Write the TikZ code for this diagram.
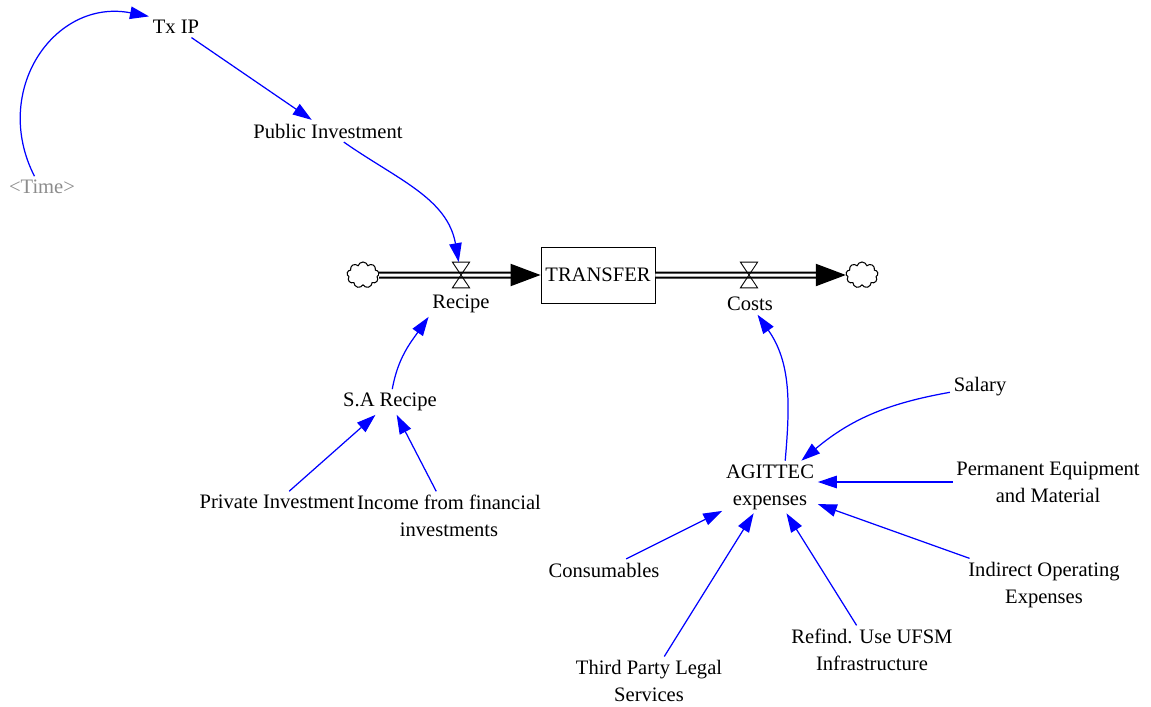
\documentclass[tikz,border=0pt]{standalone}
\usepackage{fontspec}
\setmainfont{Liberation Serif}
\usetikzlibrary{arrows.meta,shapes.symbols}

\begin{document}
\begin{tikzpicture}[x=0.02cm, y=-0.02cm,
	every node/.style={font=\fontsize{11.7}{15.3}\selectfont, align=center, inner sep=2pt},
	link/.style={draw=blue, line width=0.7pt, -{Triangle[length=3.8mm, width=2.5mm]}},
	pipe/.style={draw=black, line width=0.4mm, double=white, double distance=0.6mm, -{Triangle[length=6mm, width=4.4mm]}},
	valve/.style={minimum width=3.3mm, minimum height=5mm, inner sep=0pt},
	cloudy/.style={cloud, cloud puffs=9, draw, line width=0.6pt, minimum width=6.4mm, minimum height=5.2mm, inner sep=0pt},
	stock/.style={draw, line width=0.5pt, minimum width=2.28cm, minimum height=1.12cm, inner sep=0pt}]
		\useasboundingbox (0,0) rectangle (1151,706);

		\node (TX) at (176,27) [] {Tx IP};
		\node (PI) at (328,131) [] {Public Investment};
		\node (TM) at (42,187) [text=black!45] {<Time>};

		\node (CL) at (363,275) [cloudy] {};
		\node (TR) at (598,275) [stock] {TRANSFER};
		\node (CR) at (862,275) [cloudy] {};
		\node (VR) at (461,275) [valve] {};
		\node (VC) at (749,275) [valve] {};
		\node (RL) at (461,304) [] {Recipe};
		\node (CC) at (750,304) [] {Costs};

		\node (SA) at (390,402) [] {S.A Recipe};
		\node (PV) at (277,502) [] {Private Investment};
		\node (IF) at (449,516) [] {Income from financial\\investments};

		\node (AG) at (770,487) [] {AGITTEC\\expenses};
		\node (SL) at (980,387) [] {Salary};
		\node (PE) at (1048,482) [] {Permanent Equipment\\and Material};
		\node (CO) at (604,570) [] {Consumables};
		\node (IO) at (1044,585) [] {Indirect Operating\\Expenses};
		\node (RU) at (872,650) [] {Refind. Use UFSM\\Infrastructure};
		\node (TP) at (649,681) [] {Third Party Legal\\Services};

		% flows
		\draw [pipe] (CL) -- (TR);
		\draw [pipe] (TR) -- (CR);
		\draw [line width=0.5pt] (VR.north west) -- (VR.north east) -- (VR.south west) -- (VR.south east) -- cycle;
		\draw [line width=0.5pt] (VC.north west) -- (VC.north east) -- (VC.south west) -- (VC.south east) -- cycle;

		% links
		\draw [link] (TM.125) to[out=117, in=169, looseness=1.25] (TX.north west);
		\draw [link] (TX) -- (PI);
		\draw [link] (PI) to[out=-35, in=100] (VR);
		\draw [link] (SA) to[out=80, in=235] (RL.south west);
		\draw [link] (PV) -- (SA);
		\draw [link] (IF) -- (SA);
		\draw [link] (AG.60) to[out=85, in=-55] (CC);
		\draw [link] (SL) to[out=190, in=40] (AG);
		\draw [link] (PE) -- (AG.east |- PE);
		\draw [link] (IO) -- (AG);
		\draw [link] (RU) -- (AG);
		\draw [link] (TP) -- (AG);
		\draw [link] (CO) -- (AG);
\end{tikzpicture}
\end{document}
